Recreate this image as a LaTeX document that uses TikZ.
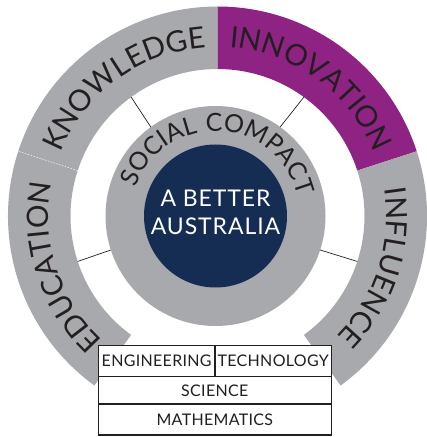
\documentclass[tikz,border=0pt]{standalone}
\usepackage{fontspec}
\usetikzlibrary{calc,decorations.text}
\newfontfamily\latoring[LetterSpace=6]{Lato}
\newfontfamily\latomid[LetterSpace=4]{Lato}
\newfontfamily\latotab[LetterSpace=2]{Lato}
\definecolor{ringgray}{RGB}{167,169,172}
\definecolor{purp}{RGB}{142,35,131}
\definecolor{navy}{RGB}{21,44,83}
\definecolor{ink}{RGB}{35,31,32}
\newcommand\ringtxt{\latoring\fontsize{29.5}{32}\selectfont\color{ink}}
\newcommand\socialtxt{\latoring\fontsize{25}{28}\selectfont\color{ink}}
\newcommand\midtxt{\latomid\fontsize{23}{28}\selectfont}
\newcommand\tabtxt{\latotab\fontsize{16}{18}\selectfont}
\newcommand\ringsector[3]{% start angle, end angle, colour
  \fill[#3] (#1:209.5) arc[start angle=#1, end angle=#2, radius=209.5]
    -- (#2:147) arc[start angle=#2, end angle=#1, radius=147] -- cycle;}
\tikzset{
  ringlabel/.style={decorate, decoration={text along path, text align=center, text={#1}}},
  spoke/.style={draw=ink, line width=0.7pt},
  cell/.style={draw=ink, line width=1.4pt, fill=white, inner sep=0pt, text=ink, font=\tabtxt},
  centertext/.style={text=white, font=\midtxt, anchor=base, inner sep=0pt}
}
\begin{document}
\begin{tikzpicture}[x=1pt,y=1pt]
\useasboundingbox (0,0) rectangle (427,437);
\coordinate (C) at (217.5,221);
\coordinate (I) at (215.5,221);
% outer ring
\begin{scope}[shift={(C)}]
  \ringsector{234}{162}{ringgray}
  \ringsector{162}{90}{ringgray}
  \ringsector{90}{18}{purp}
  \ringsector{18}{-54}{ringgray}
  \draw[white!85!ringgray, line width=0.5pt, dash pattern=on 1.5pt off 1.5pt] (162:147) -- (162:209.5);
  \path[ringlabel={|\ringtxt|EDUCATION}] (234:169) arc[start angle=234, end angle=162, radius=169];
  \path[ringlabel={|\ringtxt|KNOWLEDGE}] (162:169) arc[start angle=162, end angle=90, radius=169];
  \path[ringlabel={|\ringtxt|INNOVATION}] (90:169) arc[start angle=90, end angle=18, radius=169];
  \path[ringlabel={|\ringtxt|INFLUENCE}] (18:169) arc[start angle=18, end angle=-54, radius=169];
\end{scope}
% inner circles
\node[circle, fill=ringgray, minimum size=220pt, inner sep=0pt] (social) at (I) {};
\node[circle, fill=navy, minimum size=143pt, inner sep=0pt] (better) at (I) {};
\begin{scope}[shift={(I)}]
  \path[ringlabel={|\socialtxt|SOCIAL COMPACT}] (207:85) arc[start angle=207, end angle=-33, radius=85];
\end{scope}
\node[centertext] (l1) at (215.5,230.3) {A BETTER};
\node[centertext] (l2) at (215.5,202) {AUSTRALIA};
% spokes
\foreach \a/\n in {198/1,126/2,54/3,-18/4}{
  \coordinate (sa\n) at ($(I)+(\a:110)$);
  \coordinate (sb\n) at ($(C)+(\a:147)$);
  \draw[spoke] (sa\n) -- (sb\n);
}
% table
\node[cell, minimum width=116.7pt, minimum height=31pt] (eng) at (156.65,75.8) {ENGINEERING};
\node[cell, minimum width=116.3pt, minimum height=31pt] (tech) at (273.15,75.8) {TECHNOLOGY};
\node[cell, minimum width=233pt, minimum height=27.3pt] (sci) at (214.8,46.65) {SCIENCE};
\node[cell, minimum width=233pt, minimum height=31pt] (math) at (214.8,17.5) {MATHEMATICS};
\end{tikzpicture}
\end{document}
